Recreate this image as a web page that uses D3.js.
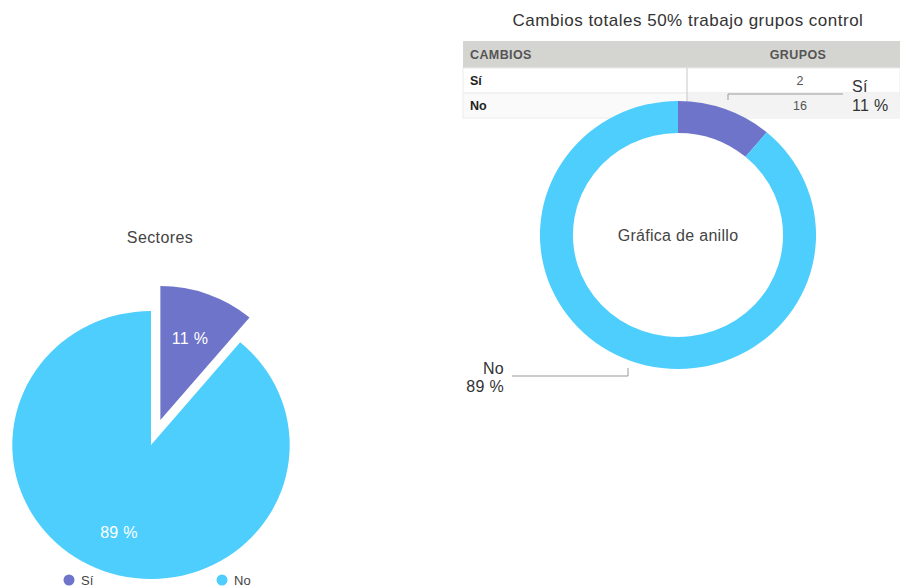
<!DOCTYPE html>
<html>
<head>
<meta charset="utf-8">
<script src="https://cdn.jsdelivr.net/npm/d3@7"></script>
<style>
  html, body { margin: 0; padding: 0; background: #fff; }
  svg { display: block; font-family: "Helvetica Neue", "Liberation Sans", Arial, sans-serif; }
</style>
</head>
<body>
<svg id="chart" width="900" height="588"></svg>
<script>
// Responses: did the 50% control-group work produce changes?
const categories = ["Sí", "No"];
const counts = [2, 16];
const colors = ["#6e74c9", "#4dcefd"];
const tableHeaders = ["CAMBIOS", "GRUPOS"];

const svg = d3.select("#chart");
const total = d3.sum(counts);
const pct = counts.map(v => Math.round(v / total * 100) + " %");

const pie = d3.pie().sort(null).value(d => d)(counts);

// ---------- Left: exploded pie "Sectores" ----------
const pieG = svg.append("g").attr("transform", "translate(151,445)");
svg.append("text").attr("x", 160).attr("y", 243).attr("text-anchor", "middle")
  .attr("font-size", 16).attr("letter-spacing", 0.4).attr("fill", "#444").text("Sectores");

const pieR = 134;
const pieArc = d3.arc().innerRadius(0).outerRadius(pieR);
const explode = 26.5;
const pieSlices = pieG.append("g").attr("transform", "scale(1.035,1)");
pieSlices.selectAll("path").data(pie).join("path")
  .attr("d", pieArc)
  .attr("fill", (d, i) => colors[i])
  .attr("transform", (d, i) => {
    if (i !== 0) return null;
    const a = (d.startAngle + d.endAngle) / 2;
    return `translate(${Math.sin(a) * explode},${-Math.cos(a) * explode})`;
  });

// slice percentages
const pieLabelPos = [[39, -101], [-32, 93]];
pieG.selectAll("text.pl").data(pie).join("text")
  .attr("class", "pl")
  .attr("x", (d, i) => pieLabelPos[i][0])
  .attr("y", (d, i) => pieLabelPos[i][1])
  .attr("text-anchor", "middle")
  .attr("font-size", 16).attr("letter-spacing", 0.3).attr("fill", "#fff")
  .text((d, i) => pct[i]);

// legend
const legendX = [69, 222];
const lg = svg.append("g").selectAll("g").data(categories).join("g")
  .attr("transform", (d, i) => `translate(${legendX[i]},580)`);
lg.append("circle").attr("r", 5.5).attr("fill", (d, i) => colors[i]);
lg.append("text").attr("x", 12).attr("y", 5).attr("font-size", 13)
  .attr("fill", "#444").text(d => d);

// ---------- Right: data table ----------
svg.append("text").attr("x", 688).attr("y", 26).attr("text-anchor", "middle")
  .attr("font-size", 17).attr("letter-spacing", 0.5).attr("fill", "#333")
  .text("Cambios totales 50% trabajo grupos control");

const tbl = svg.append("g");
const tX = 463, tW = 437, colX = 687, headY = 41, headH = 27, rowH = 25;
tbl.append("rect").attr("x", tX).attr("y", headY).attr("width", tW).attr("height", headH)
  .attr("fill", "#d4d4d1");
categories.forEach((c, i) => {
  const y = headY + headH + i * rowH;
  tbl.append("rect").attr("x", tX).attr("y", y).attr("width", tW).attr("height", rowH)
    .attr("fill", i === 1 ? "#fafafa" : "#fff").attr("stroke", "#ececec");
  if (i === 1) {
    tbl.append("rect").attr("x", colX).attr("y", y).attr("width", tW - (colX - tX)).attr("height", rowH)
      .attr("fill", "#f3f3f3");
  }
  tbl.append("text").attr("x", 470).attr("y", y + 17).attr("font-size", 12.5)
    .attr("font-weight", "bold").attr("fill", "#222").text(c);
  tbl.append("text").attr("x", 800).attr("y", y + 17).attr("text-anchor", "middle")
    .attr("font-size", 12.5).attr("fill", "#555").text(counts[i]);
});
tbl.append("line").attr("x1", colX).attr("x2", colX).attr("y1", headY + headH)
  .attr("y2", headY + headH + 2 * rowH).attr("stroke", "#c8c8c8");
tbl.append("text").attr("x", 470).attr("y", headY + 18).attr("font-size", 12.5)
  .attr("letter-spacing", 0.4).attr("font-weight", "bold").attr("fill", "#555").text(tableHeaders[0]);
tbl.append("text").attr("x", 798).attr("y", headY + 18).attr("text-anchor", "middle")
  .attr("font-size", 12.5).attr("letter-spacing", 0.4).attr("font-weight", "bold").attr("fill", "#555").text(tableHeaders[1]);

// ---------- Right: donut "Gráfica de anillo" ----------
const donutG = svg.append("g").attr("transform", "translate(678,235)");
const donutArc = d3.arc().innerRadius(102).outerRadius(134);
donutG.append("g").attr("transform", "scale(1.03,1)")
  .selectAll("path").data(pie).join("path")
  .attr("d", donutArc)
  .attr("fill", (d, i) => colors[i]);
donutG.append("text").attr("y", 6).attr("text-anchor", "middle")
  .attr("font-size", 16).attr("letter-spacing", 0.3).attr("fill", "#444").text("Gráfica de anillo");

// leader lines with callout labels
const callouts = [
  { pts: [[728, 100], [728, 94], [843, 94]], x: 852, anchor: "start", y1: 92, y2: 111 },
  { pts: [[628, 368], [628, 376], [512, 376]], x: 504, anchor: "end", y1: 374, y2: 392 }
];
callouts.forEach((c, i) => {
  svg.append("path").attr("d", d3.line()(c.pts)).attr("fill", "none")
    .attr("stroke", "#999").attr("stroke-width", 1);
  svg.append("text").attr("x", c.x).attr("y", c.y1).attr("text-anchor", c.anchor)
    .attr("font-size", 16).attr("letter-spacing", 0.3).attr("fill", "#333").text(categories[i]);
  svg.append("text").attr("x", c.x).attr("y", c.y2).attr("text-anchor", c.anchor)
    .attr("font-size", 16).attr("letter-spacing", 0.3).attr("fill", "#333").text(pct[i]);
});
</script>
</body>
</html>
